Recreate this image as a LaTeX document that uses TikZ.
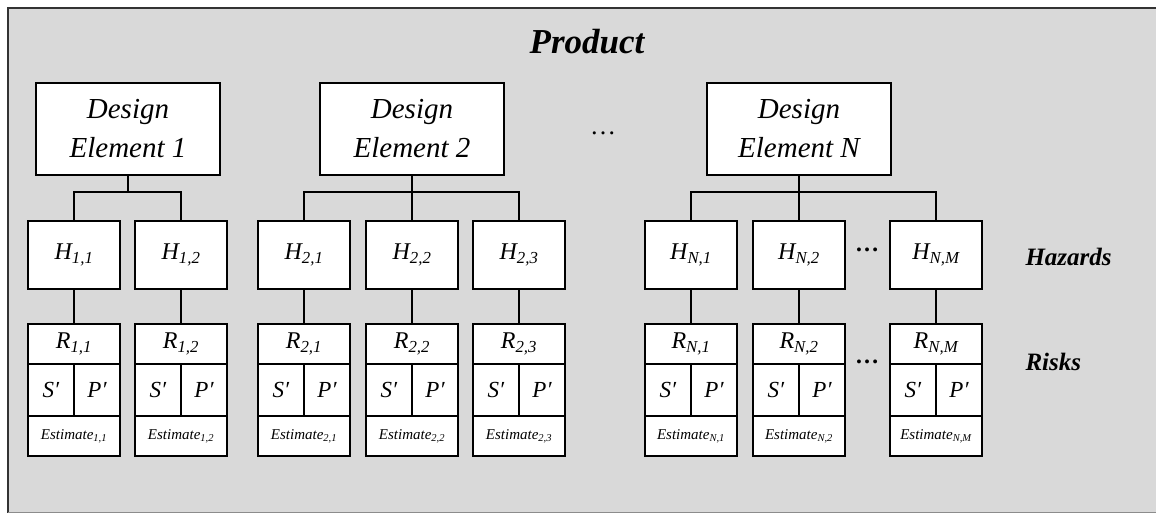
\documentclass[tikz,border=0pt]{standalone}
\usepackage{fontspec}
\setmainfont{Liberation Serif}
\usetikzlibrary{calc}
\begin{document}
\begin{tikzpicture}[x=1pt,y=-1pt,
  box/.style={draw=black,line width=1.9pt,fill=white,inner sep=0pt,outer sep=0pt},
  debox/.style={box,minimum width=184pt,minimum height=92pt,align=center,font=\fontsize{29}{39}\selectfont\itshape},
  hbox/.style={box,minimum width=92pt,minimum height=68pt,font=\fontsize{24}{26}\selectfont\itshape},
  rtop/.style={box,minimum width=92pt,minimum height=40pt,font=\fontsize{24}{26}\selectfont\itshape},
  spbox/.style={box,minimum width=46pt,minimum height=52pt,font=\fontsize{23}{26}\selectfont\itshape},
  estbox/.style={box,minimum width=92pt,minimum height=40pt,font=\fontsize{15}{16}\selectfont\itshape},
  conn/.style={draw=black,line width=1.9pt},
  dotsl/.style={font=\fontsize{26}{28}\selectfont},
  side/.style={anchor=west,font=\fontsize{25}{28}\selectfont\bfseries\itshape}]
\useasboundingbox (0,0) rectangle (1156,513);
\fill[fill={rgb,255:red,217;green,217;blue,217}] (8,8) rectangle (1170,512);
\draw[line width=1.9pt,black!80] (8,520) -- (8,8) -- (1170,8);
\draw[line width=1.9pt,black!45] (8,512.5) -- (1170,512.5);
\node[font=\fontsize{35}{38}\selectfont\bfseries\itshape] (title) at (587,42) {Product};
\node[debox] (de1) at (128,129) {Design\\Element 1};
\node[debox] (de2) at (412,129) {Design\\Element 2};
\node[debox] (deN) at (799,129) {Design\\Element N};
\node[dotsl] (dotsde) at (603,133) {…};
\foreach \cx/\nm/\sub in {74/11/{1,1},181/12/{1,2},304/21/{2,1},412/22/{2,2},519/23/{2,3},691/N1/{N,1},799/N2/{N,2},936/NM/{N,M}}{
  \node[hbox] (h\nm) at (\cx,255) {H\textsubscript{\sub}};
  \node[rtop] (r\nm) at (\cx,344) {R\textsubscript{\sub}};
  \node[spbox] (s\nm) at (\cx-23,390) {S′};
  \node[spbox] (p\nm) at (\cx+23,390) {P′};
  \node[estbox] (e\nm) at (\cx,436) {Estimate\textsubscript{\sub}};
  \draw[conn] (h\nm.south) -- (r\nm.north);
}
\coordinate (b1) at (0,192);
\draw[conn] (de1.south) -- (de1.south |- b1);
\draw[conn] (h11.north) -- (h11.north |- b1) -- (h12.north |- b1) -- (h12.north);
\draw[conn] (de2.south) -- (h22.north);
\draw[conn] (h21.north) -- (h21.north |- b1) -- (h23.north |- b1) -- (h23.north);
\draw[conn] (deN.south) -- (hN2.north);
\draw[conn] (hN1.north) -- (hN1.north |- b1) -- (hNM.north |- b1) -- (hNM.north);
\node[dotsl,font=\fontsize{24}{26}\selectfont\bfseries] (dotsh) at (867,250) {…};
\node[dotsl,font=\fontsize{24}{26}\selectfont\bfseries] (dotsr) at (867,362) {…};
\node[side] (haz) at (1022,257) {Hazards};
\node[side] (risk) at (1022,362) {Risks};
\end{tikzpicture}
\end{document}
